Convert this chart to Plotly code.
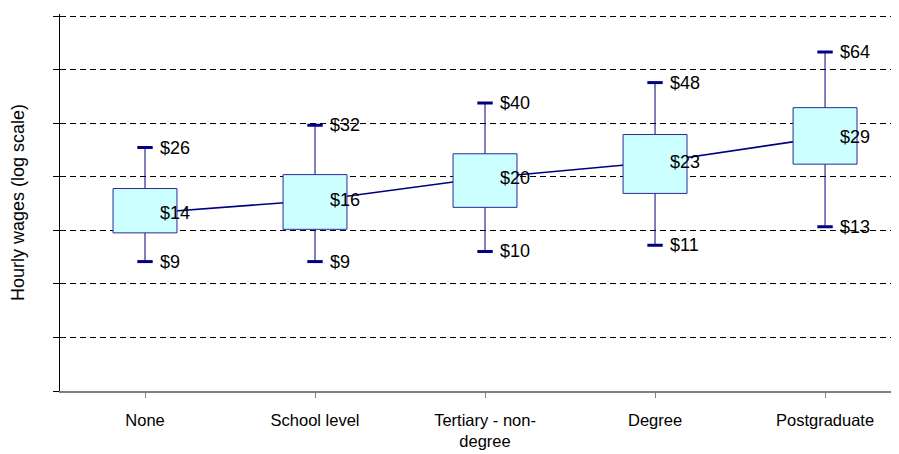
import numpy as np
import plotly.graph_objects as go

categories = ["None", "School level", "Tertiary - non-<br>degree", "Degree", "Postgraduate"]
low = [9.1, 9.1, 10.0, 10.6, 12.6]
q1 = [11.9, 12.3, 15.1, 17.2, 22.6]
median = [14.3, 16.1, 19.9, 23.0, 29.1]
q3 = [18.0, 20.5, 24.9, 29.8, 38.3]
high = [26.4, 32.5, 40.0, 48.4, 64.4]

# gridlines sit at steps of 0.5 in log-wage
grid_ln = [1.0, 1.5, 2.0, 2.5, 3.0, 3.5, 4.0, 4.5]

navy = "#000080"
half_w = 0.188
xs = list(range(len(categories)))

fig = go.Figure()

# median line with whiskers as error bars (drawn first, so boxes cover it)
fig.add_trace(go.Scatter(
    x=xs, y=median, mode="lines",
    line=dict(color=navy, width=1.6),
    error_y=dict(type="data", symmetric=False,
                 array=[h - m for h, m in zip(high, median)],
                 arrayminus=[m - l for m, l in zip(median, low)],
                 color=navy, thickness=1, width=0),
    hoverinfo="skip"))

# boxes
for i in xs:
    fig.add_trace(go.Scatter(
        x=[i - half_w, i + half_w, i + half_w, i - half_w, i - half_w],
        y=[q1[i], q1[i], q3[i], q3[i], q1[i]],
        mode="lines", fill="toself", fillcolor="#CCFFFF",
        line=dict(color="#2a2a9a", width=1), hoverinfo="skip"))

# whisker caps
fig.add_trace(go.Scatter(
    x=xs + xs, y=high + low, mode="markers",
    marker=dict(symbol="line-ew", size=11, line=dict(color=navy, width=3)),
    hoverinfo="skip"))

for i in xs:
    for v in (high[i], median[i], low[i]):
        fig.add_annotation(x=i, y=np.log10(v), text=f"${v:.0f}", showarrow=False,
                           xanchor="left", xshift=13,
                           font=dict(size=18, color="black"))

# the page adds an 8px body margin, so the figure is 8px smaller
fig.update_layout(
    width=891, height=446,
    margin=dict(l=52, r=0, t=6, b=63),
    showlegend=False,
    plot_bgcolor="white", paper_bgcolor="white",
    font=dict(family="Liberation Sans, Arial, sans-serif", size=16.5, color="black"))

fig.update_xaxes(
    range=[-0.5, 4.435], tickvals=xs, ticktext=categories,
    tickson="boundaries", ticks="outside", ticklen=5, tickcolor="#808080",
    showline=True, linecolor="#808080", linewidth=2,
    showgrid=False, ticklabelstandoff=8, zeroline=False)

fig.update_yaxes(
    type="log", range=[grid_ln[0] / np.log(10), 4.52 / np.log(10)],
    tickvals=np.exp(grid_ln), showticklabels=False,
    ticks="outside", ticklen=6, tickcolor="black",
    showline=True, linecolor="black", linewidth=1,
    showgrid=True, gridcolor="black", gridwidth=1, griddash="6px,4px",
    title=dict(text="Hourly wages (log scale)", standoff=30, font=dict(size=18)))

fig.write_html("out.html")
